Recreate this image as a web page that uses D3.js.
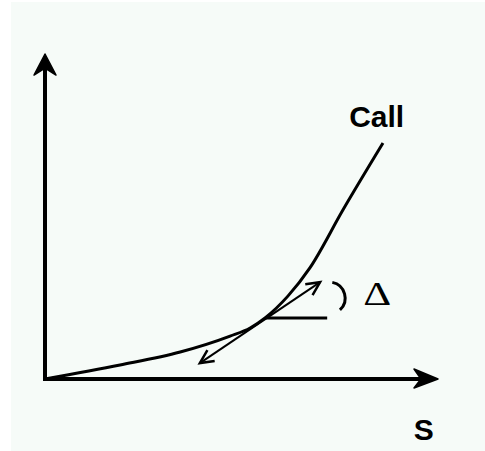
<!DOCTYPE html>
<html>
<head>
<meta charset="UTF-8" />
<title>call delta</title>
<script src="https://d3js.org/d3.v7.min.js"></script>
<style>
  body { margin: 0; background: #ffffff; }
</style>
</head>
<body>
<svg id="chart" style="width:485px; height:451px; display:block"></svg>
<script type="text/javascript">
// call price curve (S on x, Call on y, 0..100 both)
const curveS    = [0, 19.1, 34.4, 47.1, 52.2, 56.0, 61.8, 67.4, 75.8, 86.0]
const curveCall = [0, 4.3, 8.3, 13.2, 15.7, 18.8, 25.5, 34.2, 52.0, 72.6]

// tangent at the touching point, and the flat reference line
const tangentS    = [39.4, 70.0]
const tangentCall = [4.9, 29.8]
const flatS    = [56.0, 71.8]
const flatCall = [18.8, 18.8]

// where the delta angle mark sits
const angleAt = [72.3, 24.9]

// labels
const labelText = ["Call", "S", "\u0394"]
const labelS    = [77.4, 96.4, 81.0]
const labelCall = [77.5, -18.8, 22.8]

const ink = "#000"
const paper = "#f6fbf8"

var svg = d3.select("#chart")
var xScale = d3.scaleLinear().domain([0, 100]).range([45, 438])
var yScale = d3.scaleLinear().domain([0, 100]).range([379, 54])

svg.append("rect").attr("x", 11).attr("y", 2).attr("width", 474).attr("height", 449).attr("fill", paper)

// axes (plain lines, arrow at the far end)
var x0 = xScale(0), y0 = yScale(0)
svg.append("line").attr("x1", x0).attr("y1", y0 + 2).attr("x2", x0).attr("y2", yScale(100) + 10)
  .style("stroke", ink).style("stroke-width", 4)
svg.append("line").attr("x1", x0 - 2).attr("y1", y0).attr("x2", xScale(100) - 10).attr("y2", y0)
  .style("stroke", ink).style("stroke-width", 4)

// filled stealth heads
var yt = yScale(100), xt = xScale(100)
svg.append("path")
  .attr("d", `M${x0},${yt} L${x0 + 11},${yt + 21} L${x0},${yt + 14} L${x0 - 11},${yt + 21} Z`)
  .attr("fill", ink).attr("stroke", ink).attr("stroke-width", 1.5).attr("stroke-linejoin", "round")
svg.append("path")
  .attr("d", `M${xt},${y0} L${xt - 24},${y0 - 10} L${xt - 17},${y0} L${xt - 24},${y0 + 9} Z`)
  .attr("fill", ink).attr("stroke", ink).attr("stroke-width", 1.5).attr("stroke-linejoin", "round")

// the call curve
var pts = curveS.map((s, i) => [s, curveCall[i]])
var line = d3.line().x(d => xScale(d[0])).y(d => yScale(d[1])).curve(d3.curveMonotoneX)
svg.append("path").attr("d", line(pts))
  .attr("fill", "none").style("stroke", ink).style("stroke-width", 3)

// flat line from the touching point
svg.append("line")
  .attr("x1", xScale(flatS[0])).attr("y1", yScale(flatCall[0]))
  .attr("x2", xScale(flatS[1])).attr("y2", yScale(flatCall[1]))
  .style("stroke", ink).style("stroke-width", 3)

// tangent with open heads at both ends
var ta = [xScale(tangentS[0]), yScale(tangentCall[0])]
var tb = [xScale(tangentS[1]), yScale(tangentCall[1])]
svg.append("line").attr("x1", ta[0]).attr("y1", ta[1]).attr("x2", tb[0]).attr("y2", tb[1])
  .style("stroke", ink).style("stroke-width", 2)

function openHead(tip, from) {
  var ang = Math.atan2(tip[1] - from[1], tip[0] - from[0])
  var len = 15, spread = 0.45
  var p1 = [tip[0] - len * Math.cos(ang - spread), tip[1] - len * Math.sin(ang - spread)]
  var p2 = [tip[0] - len * Math.cos(ang + spread), tip[1] - len * Math.sin(ang + spread)]
  svg.append("path").attr("d", `M${p1[0]},${p1[1]} L${tip[0]},${tip[1]} L${p2[0]},${p2[1]}`)
    .attr("fill", "none").style("stroke", ink).style("stroke-width", 2.5).attr("stroke-linejoin", "miter")
}
openHead(tb, ta)
openHead(ta, tb)

// angle mark
var arc = d3.arc().innerRadius(16).outerRadius(16).startAngle(0.2).endAngle(2.4)
svg.append("path")
  .attr("transform", `translate(${xScale(angleAt[0])},${yScale(angleAt[1])})`)
  .attr("d", arc())
  .attr("fill", "none").style("stroke", ink).style("stroke-width", 3)

// labels
labelText.forEach((t, i) => {
  var txt = svg.append("text")
    .attr("x", xScale(labelS[i])).attr("y", yScale(labelCall[i]))
    .text(t).attr("fill", ink)
  if (t === "\u0394") {
    txt.style("font-family", "'Liberation Serif', serif").style("font-size", "34px")
      .attr("textLength", 28).attr("lengthAdjust", "spacingAndGlyphs")
  } else {
    txt.style("font-family", "'Liberation Sans', Arial, sans-serif").style("font-size", "30px")
      .style("font-weight", "bold")
    if (t === "S") txt.attr("text-anchor", "middle")
  }
})
</script>
</body>
</html>
